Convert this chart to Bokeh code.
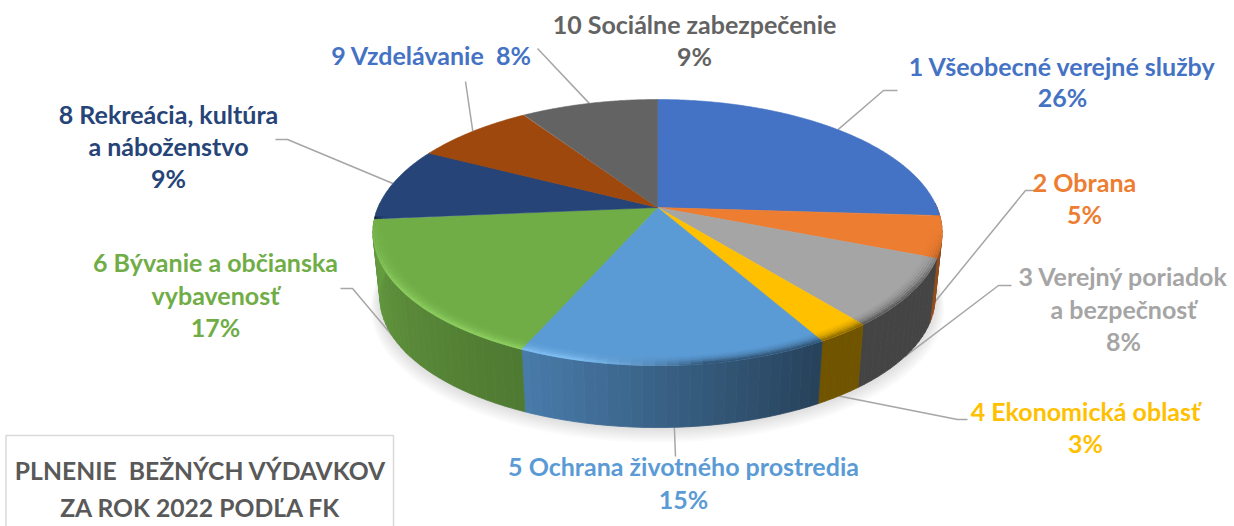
import numpy as np
from bokeh.plotting import figure
from bokeh.embed import file_html
from bokeh.resources import INLINE
from bokeh.core.properties import value

# ---------- data ----------
categories = ["1 Všeobecné verejné služby", "2 Obrana", "3 Verejný poriadok a bezpečnosť",
              "4 Ekonomická oblasť", "5 Ochrana životného prostredia",
              "6 Bývanie a občianska vybavenosť", "8 Rekreácia, kultúra a náboženstvo",
              "9 Vzdelávanie", "10 Sociálne zabezpečenie"]
shares = [26.0, 5.0, 8.2, 2.6, 14.8, 17.0, 9.0, 8.1, 9.3]
percent_labels = ["26%", "5%", "8%", "3%", "15%", "17%", "9%", "8%", "9%"]
title_lines = ["PLNENIE\u00a0\u00a0BEŽNÝCH VÝDAVKOV", "ZA ROK 2022 PODĽA FK"]

# ---------- style / layout ----------
colors = ["#4472C4", "#ED7D31", "#A5A5A5", "#FFC000", "#5B9BD5", "#70AD47", "#264478", "#9E480E", "#636363"]
label_colors = ["#4472C4", "#ED7D31", "#A5A5A5", "#FFC000", "#5B9BD5", "#70AD47", "#264478", "#4472C4", "#636363"]
wall_shade = {1: (.62, .62), 2: (.41, .41), 3: (.44, .44), 4: (.42, .80), 5: (.70, .90)}
FONT = "Lato"
FS = "25px"
CX, CY, A, B, K = 657.0, 207.0, 128.3, 279.5, 0.188
WALL_SCALE, WALL_DY = 0.975, 66.0
LEADER = "#A6A6A6"


def hex2rgb(h):
    return np.array([int(h[i:i + 2], 16) for i in (1, 3, 5)], float)


def rgb2hex(c):
    c = np.clip(np.round(c), 0, 255).astype(int)
    return "#%02x%02x%02x" % tuple(c)


def top_pt(theta_deg, r=1.0):
    t = np.radians(theta_deg)
    X, Y = r * np.sin(t), r * np.cos(t)
    w = 1 + K * Y
    return CX + B * X / w, CY - A * Y / w


def wall_pt(theta_deg, r=1.0, dy=WALL_DY):
    x, y = top_pt(theta_deg, r)
    return CX + (x - CX) * WALL_SCALE, CY + (y - CY) * WALL_SCALE + dy


edges = np.concatenate([[0], np.cumsum(shares)]) * 3.6 * 100 / sum(shares)
mids = (edges[:-1] + edges[1:]) / 2

p = figure(width=1234, height=526, x_range=(0, 1234), y_range=(526, 0),
           output_backend="svg", toolbar_location=None, min_border=0,
           x_axis_type=None, y_axis_type=None, outline_line_color=None)
p.grid.visible = False
p.background_fill_color = "white"
p.border_fill_color = "white"

# soft shadow under the disc
th = np.linspace(85, 275, 200)
for i in range(1, 9):
    x, y = wall_pt(th, 1.0 + 0.004 * i, WALL_DY + i * 1.1)
    x0, y0 = top_pt(th)
    p.patch(np.r_[x, x0[::-1]], np.r_[y, y0[::-1]], fill_color="#808080", fill_alpha=0.035, line_color=None)

# leader lines: start on the disc, then elbow (drawn behind the disc)
leader_from_wall = [False, True, True, True, True, True, False, False, False]
leader_elbows = [[(883, 90), (897, 90)], [(1025, 190), (1037, 190)], [(998, 285), (1011, 285)],
                 [(957, 419), (967, 419)], [(675, 456)], [(352, 288), (340, 288)],
                 [(287, 139), (275, 139)], [(465, 81)], [(537, 48)]]
for m, fw, el in zip(mids, leader_from_wall, leader_elbows):
    sx, sy = wall_pt(m) if fw else top_pt(m)
    lx = [float(sx)] + [e[0] for e in el]
    ly = [float(sy)] + [e[1] for e in el]
    p.line(lx, ly, line_color=LEADER, line_width=1.5)

# wall strips
xs, ys, cs = [], [], []
for idx in sorted(wall_shade):
    a, b = edges[idx], edges[idx + 1]
    lo = 88.0 if idx == 1 else a
    hi = 272.0 if idx == 5 else b
    ticks = np.arange(lo, hi + 1e-6, 2.0)
    if ticks[-1] < hi:
        ticks = np.r_[ticks, hi]
    base = hex2rgb(colors[idx])
    s0, s1 = wall_shade[idx]
    for t0, t1 in zip(ticks[:-1], ticks[1:]):
        f = s0 + (s1 - s0) * np.clip(((t0 + t1) / 2 - a) / (b - a), 0, 1)
        tx, ty = top_pt(np.array([t0, t1]))
        wx, wy = wall_pt(np.array([t0, t1]))
        xs.append([tx[0], tx[1], wx[1], wx[0]])
        ys.append([ty[0], ty[1], wy[1], wy[0]])
        cs.append(rgb2hex(base * f))
p.patches(xs, ys, fill_color=cs, line_color=cs, line_width=0.8)

# top surface slices
for idx, (a, b) in enumerate(zip(edges[:-1], edges[1:])):
    t = np.arange(a, b + 0.25, 0.5)
    x, y = top_pt(t)
    p.patch(np.r_[CX, x], np.r_[CY, y], fill_color=colors[idx], line_color=colors[idx], line_width=0.6)

# bevel along the front rim
bx, by, bc, bw = [], [], [], []
highlights = {4: "#86c4f5", 5: "#93d566"}
rings = [(0.958, .06), (0.966, .14), (0.974, .25), (0.982, .42), (0.990, .62), (0.997, .8)]
for r, st in rings:
    for idx, (a, b) in enumerate(zip(edges[:-1], edges[1:])):
        lo, hi = max(a, 100.0), min(b, 266.0)
        if hi <= lo:
            continue
        ticks = np.arange(lo, hi + 1e-6, 2.0)
        if ticks[-1] < hi:
            ticks = np.r_[ticks, hi]
        base = hex2rgb(colors[idx])
        for t0, t1 in zip(ticks[:-1], ticks[1:]):
            tm = (t0 + t1) / 2
            fade = np.clip((tm - 100) / 25, 0, 1)
            light = np.clip((tm - 172) / 22, 0, 1) if idx in highlights else 0.0
            end = np.clip((266 - tm) / 30, 0, 1)
            dark = base * 0.45
            c = base + (dark - base) * st * fade * (1 - light)
            if idx in highlights:
                c = c + (hex2rgb(highlights[idx]) - c) * st * light * end
            x, y = top_pt(np.array([t0, t1]), r)
            bx.append(list(x)); by.append(list(y)); bc.append(rgb2hex(c)); bw.append(1.8)
p.multi_line(bx, by, line_color=bc, line_width=bw)

# labels
label_rows = [
    [(1062, 65, categories[0]), (1062, 96, percent_labels[0])],
    [(1084, 181, categories[1]), (1084, 213, percent_labels[1])],
    [(1123, 275, "3 Verejný poriadok"), (1123, 308, "a bezpečnosť"), (1123, 340, percent_labels[2])],
    [(1085, 410, categories[3]), (1085, 442, percent_labels[3])],
    [(683, 465, categories[4]), (683, 498, percent_labels[4])],
    [(215, 261, "6 Bývanie a občianska"), (215, 294, "vybavenosť"), (215, 326, percent_labels[5])],
    [(168, 113, "8 Rekreácia, kultúra"), (168, 145, "a náboženstvo"), (168, 177, percent_labels[6])],
    [(431, 54, categories[7] + "\u00a0\u00a0" + percent_labels[7])],
    [(694, 23, categories[8]), (694, 55, percent_labels[8])],
]
for rows, col in zip(label_rows, label_colors):
    p.text([r[0] for r in rows], [r[1] for r in rows], text=[r[2] for r in rows],
           text_color=col, text_font=value(FONT), text_font_size=FS, text_font_style="bold",
           text_align="center", text_baseline="middle")

# framed title
p.line([5.5, 5.5, 393, 393], [530, 435, 435, 530], line_color="#D9D9D9", line_width=1.5)
p.text([200, 200], [470, 507], text=title_lines, text_color="#595959", text_font=value(FONT),
       text_font_size="24.7px", text_font_style="bold", text_align="center", text_baseline="middle")

open("out.html", "w").write(file_html(p, INLINE))
